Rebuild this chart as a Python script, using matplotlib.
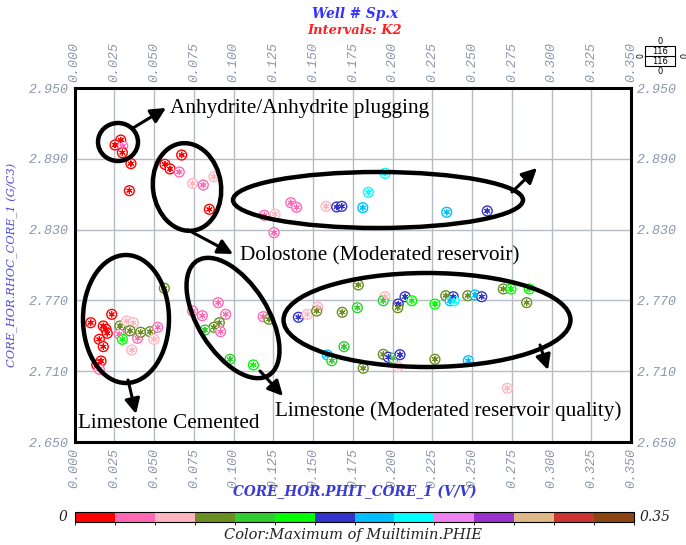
import matplotlib
matplotlib.use("Agg")
import matplotlib.pyplot as plt
import numpy as np
from matplotlib.colors import ListedColormap, BoundaryNorm
from matplotlib.patches import Ellipse
import matplotlib as mpl

# ---------------- data ----------------
phit = [0.0291, 0.0255, 0.0303, 0.0301, 0.0355, 0.0345, 0.0674, 0.0569, 0.0601, 0.0659,
        0.0743, 0.0810, 0.0877, 0.0848, 0.1194,
        0.1261, 0.1255, 0.1360, 0.1397, 0.1582, 0.1649, 0.1681, 0.1848, 0.1953, 0.1813,
        0.2341, 0.2596,
        0.0565, 0.0234, 0.0102, 0.0181, 0.0198, 0.0206, 0.0156, 0.0181, 0.0167, 0.0140,
        0.0156, 0.0286, 0.0328, 0.0370, 0.0349, 0.0282, 0.0301, 0.0397, 0.0416, 0.0475,
        0.0500, 0.0523, 0.0360, 0.0743, 0.0804, 0.0904, 0.0951, 0.0911, 0.0877, 0.0821,
        0.0919, 0.0978, 0.1125, 0.1187, 0.1223,
        0.1785, 0.1408, 0.1464, 0.1530, 0.1523, 0.1684, 0.1779, 0.1953, 0.1942, 0.2036,
        0.2033, 0.2079, 0.2121, 0.2267, 0.2335, 0.2382, 0.2362, 0.2387, 0.2473, 0.2519,
        0.2561, 0.2697, 0.2745, 0.2860, 0.2844, 0.1695, 0.1590, 0.1618, 0.1942, 0.1974,
        0.2005, 0.2047, 0.1816, 0.2033, 0.2267, 0.2477, 0.2722]
rhoc = [2.9059, 2.9017, 2.9008, 2.8952, 2.8859, 2.8630, 2.8932, 2.8853, 2.8814, 2.8788,
        2.8692, 2.8678, 2.8748, 2.8472, 2.8421,
        2.8430, 2.8274, 2.8528, 2.8489, 2.8497, 2.8492, 2.8497, 2.8616, 2.8777, 2.8486,
        2.8447, 2.8458,
        2.7803, 2.7582, 2.7511, 2.7483, 2.7455, 2.7421, 2.7370, 2.7308, 2.7186, 2.7153,
        2.7116, 2.7483, 2.7525, 2.7511, 2.7443, 2.7415, 2.7370, 2.7379, 2.7430, 2.7435,
        2.7370, 2.7472, 2.7280, 2.7610, 2.7570, 2.7681, 2.7582, 2.7511, 2.7472, 2.7449,
        2.7435, 2.7201, 2.7153, 2.7562, 2.7540,
        2.7831, 2.7557, 2.7582, 2.7642, 2.7610, 2.7599, 2.7638, 2.7731, 2.7697, 2.7669,
        2.7638, 2.7731, 2.7697, 2.7669, 2.7740, 2.7731, 2.7697, 2.7697, 2.7740, 2.7746,
        2.7731, 2.7797, 2.7797, 2.7797, 2.7681, 2.7308, 2.7237, 2.7189, 2.7243, 2.7218,
        2.7209, 2.7240, 2.7125, 2.7138, 2.7201, 2.7189, 2.6955]
phie_max = [0.0125, 0.0125, 0.0375, 0.0125, 0.0125, 0.0125, 0.0125, 0.0125, 0.0125, 0.0375,
            0.0625, 0.0375, 0.0625, 0.0125, 0.0375,
            0.0625, 0.0375, 0.0375, 0.0375, 0.0625, 0.1625, 0.1625, 0.2125, 0.2125, 0.1875,
            0.1875, 0.1625,
            0.0875, 0.0125, 0.0125, 0.0125, 0.0125, 0.0125, 0.0125, 0.0125, 0.0125, 0.0125,
            0.0375, 0.0875, 0.0625, 0.0625, 0.0875, 0.0375, 0.1375, 0.0375, 0.0875, 0.0875,
            0.0625, 0.0375, 0.0625, 0.0375, 0.0375, 0.0375, 0.0375, 0.0875, 0.0875, 0.1125,
            0.0375, 0.1125, 0.1375, 0.0375, 0.0875,
            0.0875, 0.1625, 0.0625, 0.0625, 0.0875, 0.0875, 0.1125, 0.0625, 0.1125, 0.1625,
            0.0875, 0.1625, 0.1375, 0.1375, 0.0875, 0.1625, 0.1875, 0.2125, 0.0875, 0.1875,
            0.1625, 0.0875, 0.1375, 0.1375, 0.0875, 0.1125, 0.1875, 0.1125, 0.0875, 0.1625,
            0.1125, 0.1625, 0.0875, 0.0625, 0.0875, 0.1875, 0.0625]

bin_colors = ['#ff0000', '#ff69b4', '#ffb6c1', '#6b8e23', '#32cd32', '#00ff00', '#3333cc',
              '#00bfff', '#00ffff', '#ee82ee', '#9932cc', '#deb887', '#cc3333', '#8b4513']
x_ticks = [0.000, 0.025, 0.050, 0.075, 0.100, 0.125, 0.150, 0.175, 0.200, 0.225, 0.250,
           0.275, 0.300, 0.325, 0.350]
y_ticks = [2.650, 2.710, 2.770, 2.830, 2.890, 2.950]

title1 = "Well # Sp.x"
title2 = "Intervals: K2"
xlabel = "CORE_HOR.PHIT_CORE_1 (V/V)"
ylabel = "CORE_HOR.RHOC_CORE_1 (G/C3)"
cbar_label = "Color:Maximum of Muiltimin.PHIE"

# ---------------- figure ----------------
W, H = 686, 545
fig = plt.figure(figsize=(W / 100, H / 100), dpi=100)

def fx(px):
    return px / W

def fy(py):
    return 1 - py / H

L, R, T, B = 74.5, 631, 88, 442
ax = fig.add_axes([fx(L), fy(B), fx(R) - fx(L), fy(T) - fy(B)])
ax.set_xlim(0, 0.35)
ax.set_ylim(2.65, 2.95)

cmap = ListedColormap(bin_colors)
norm = BoundaryNorm(np.linspace(0, 0.35, 15), cmap.N)
cols = cmap(norm(np.array(phie_max)))

ax.scatter(phit, rhoc, s=50, facecolors='white', edgecolors=cols, linewidths=1.0, zorder=3)
ax.scatter(phit, rhoc, s=16, marker=(6, 2, 0), c=cols, linewidths=0.8, zorder=4)

ax.set_xticks(x_ticks)
ax.set_yticks(y_ticks)
ax.set_xticklabels([f"{v:.3f}" for v in x_ticks])
ax.set_yticklabels([f"{v:.3f}" for v in y_ticks])
tick_col = '#8a96aa'
ax.tick_params(axis='both', length=0, top=True, right=True, labeltop=True, labelright=True)
ax.tick_params(axis='x', pad=4)
ax.tick_params(axis='y', pad=4)
for t in ax.xaxis.get_major_ticks():
    for lab in (t.label1, t.label2):
        lab.set_fontfamily('Liberation Mono'); lab.set_fontstyle('italic')
        lab.set_fontsize(9.5); lab.set_color(tick_col); lab.set_rotation(90)
for t in ax.yaxis.get_major_ticks():
    for lab in (t.label1, t.label2):
        lab.set_fontfamily('Liberation Mono'); lab.set_fontstyle('italic')
        lab.set_fontsize(9.5); lab.set_color(tick_col)

ax.grid(True, color='#b4bcc4', linewidth=1.0, zorder=1)
ax.set_axisbelow(True)
for sp in ax.spines.values():
    sp.set_linewidth(2.2)
    sp.set_color('black')

# titles and axis labels
fig.text(fx(355), fy(14), title1, ha='center', va='center', color='#3333ff',
         family='DejaVu Serif', style='italic', weight='bold', size=9.8)
fig.text(fx(355), fy(31), title2, ha='center', va='center', color='#ff2020',
         family='DejaVu Serif', style='italic', weight='bold', size=9.4)
fig.text(fx(355), fy(492), xlabel, ha='center', va='center', color='#3a3ad8',
         family='DejaVu Serif', style='italic', weight='bold', size=9.8)
fig.text(fx(12), fy(265), ylabel, ha='center', va='center', color='#4a4ae0',
         family='DejaVu Serif', style='italic', size=8.2, rotation=90)

# colorbar
cax = fig.add_axes([fx(75), fy(522), fx(634) - fx(75), fy(512) - fy(522)])
cb = mpl.colorbar.ColorbarBase(cax, cmap=cmap, norm=norm, orientation='horizontal')
cb.set_ticks([])
cb.outline.set_linewidth(0.8)
fig.text(fx(67), fy(517), "0", ha='right', va='center', family='DejaVu Serif',
         style='italic', size=10, color='#222222')
fig.text(fx(640), fy(517), "0.35", ha='left', va='center', family='DejaVu Serif',
         style='italic', size=10, color='#222222')
fig.text(fx(353), fy(535), cbar_label, ha='center', va='center', family='DejaVu Serif',
         style='italic', size=10.5, color='#222222')

# overlay for annotations (pixel coordinates)
ov = fig.add_axes([0, 0, 1, 1], zorder=10)
ov.set_xlim(0, W)
ov.set_ylim(H, 0)
ov.axis('off')
ov.patch.set_alpha(0)

ell_kw = dict(fill=False, edgecolor='black', linewidth=3.2)
ov.add_patch(Ellipse((118, 142), 40, 38, **ell_kw))
ov.add_patch(Ellipse((187, 187), 68, 88, angle=-8, **ell_kw))
ov.add_patch(Ellipse((378, 200), 290, 56, **ell_kw))
ov.add_patch(Ellipse((126, 319), 86, 128, **ell_kw))
ov.add_patch(Ellipse((233, 318), 70, 135, angle=-32, **ell_kw))
ov.add_patch(Ellipse((427, 320), 287, 94, **ell_kw))

arr = dict(arrowstyle='-|>,head_length=0.9,head_width=0.45', color='black', lw=2.2,
           shrinkA=0, shrinkB=0)
ov.annotate('', xy=(166, 108), xytext=(133, 128), arrowprops=arr)
ov.annotate('', xy=(233, 254), xytext=(188, 230), arrowprops=arr)
ov.annotate('', xy=(537, 168), xytext=(512, 192), arrowprops=arr)
ov.annotate('', xy=(136, 414), xytext=(128, 380), arrowprops=arr)
ov.annotate('', xy=(283, 396), xytext=(260, 371), arrowprops=arr)
ov.annotate('', xy=(548, 370), xytext=(540, 345), arrowprops=arr)

tkw = dict(family='Liberation Serif', size=15.3, color='black', va='center', ha='left')
ov.text(170, 108, "Anhydrite/Anhydrite plugging", **tkw)
ov.text(240, 256, "Dolostone (Moderated reservoir)", **tkw)
ov.text(275, 411, "Limestone (Moderated reservoir quality)", **tkw)
ov.text(78, 424, "Limestone Cemented", **tkw)

# small count box at top right
ov.add_patch(plt.Rectangle((645, 46), 30, 20, fill=False, edgecolor='black', lw=0.8))
ov.plot([645, 675], [56, 56], color='black', lw=0.8)
sk = dict(family='DejaVu Sans', size=6, color='black', ha='center', va='center')
ov.text(660, 51, "116", **sk)
ov.text(660, 61, "116", **sk)
ov.text(660, 41, "0", **sk)
ov.text(660, 71, "0", **sk)
ov.text(640.5, 56, "0", rotation=90, family='DejaVu Sans', size=5.5, color='black',
        ha='center', va='center')
ov.text(681, 56, "0", rotation=-90, **sk)

fig.savefig("out.png", dpi=100)
